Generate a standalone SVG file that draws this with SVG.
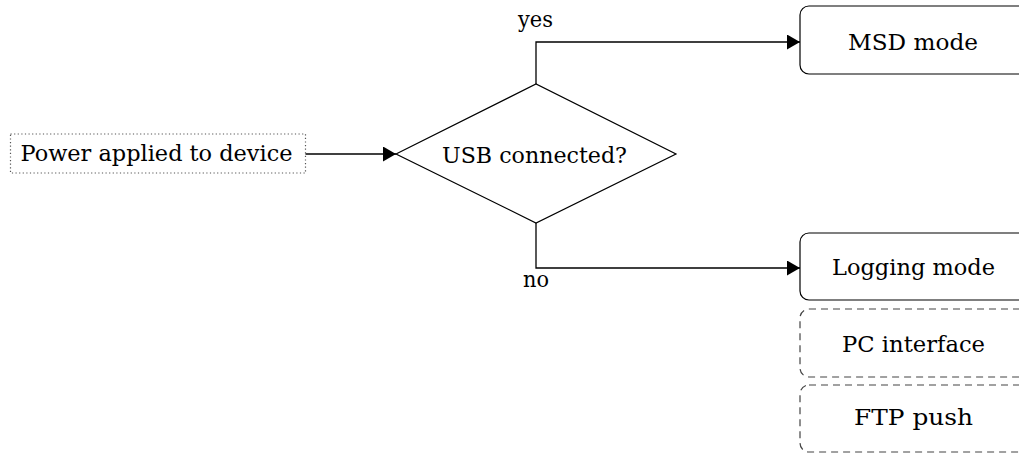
<svg xmlns="http://www.w3.org/2000/svg" width="1019" height="453" viewBox="0 0 1019 453">
<defs>
<marker id="arr" viewBox="0 0 13 15" refX="13" refY="7.5" markerWidth="13" markerHeight="15" markerUnits="userSpaceOnUse" orient="auto">
<path d="M0,0 L13,7.5 L0,15 Z" fill="#000"/>
</marker>
</defs>
<style>
.t{font-family:'DejaVu Serif','Times New Roman',serif;font-size:23px;fill:#000}
.box{fill:#fff;stroke:#000;stroke-width:1.2}
.dash{fill:#fff;stroke:#444;stroke-width:1.2;stroke-dasharray:7,5}
.dot{fill:#fff;stroke:#555;stroke-width:1.2;stroke-dasharray:1.2,2.4}
.edge{fill:none;stroke:#000;stroke-width:1.3;marker-end:url(#arr)}
</style>
<g id="connectors">
<line class="edge" x1="305" y1="154" x2="396" y2="154"/>
<polyline class="edge" points="536,84 536,42 800,42"/>
<polyline class="edge" points="536,223 536,268 800,268"/>
</g>
<g id="power">
<rect class="dot" x="10.5" y="134" width="295" height="39"/>
<text class="t" x="20.5" y="161" textLength="272" lengthAdjust="spacingAndGlyphs">Power applied to device</text>
</g>
<g id="usb">
<polygon class="box" points="396,154 536,84 676,154 536,223"/>
<text class="t" x="442" y="163" textLength="185" lengthAdjust="spacingAndGlyphs">USB connected?</text>
</g>
<g id="label-yes"><text class="t" x="518" y="27" textLength="35" lengthAdjust="spacingAndGlyphs">yes</text></g>
<g id="label-no"><text class="t" x="523" y="287" textLength="26" lengthAdjust="spacingAndGlyphs">no</text></g>
<g id="msd">
<rect class="box" x="800" y="6" width="240" height="68" rx="9"/>
<text class="t" x="848" y="50" textLength="130" lengthAdjust="spacingAndGlyphs">MSD mode</text>
</g>
<g id="logging">
<rect class="box" x="800" y="233" width="240" height="67" rx="9"/>
<text class="t" x="832" y="275" textLength="163" lengthAdjust="spacingAndGlyphs">Logging mode</text>
</g>
<g id="pc">
<rect class="dash" x="800" y="309" width="240" height="68" rx="9"/>
<text class="t" x="842" y="352" textLength="143" lengthAdjust="spacingAndGlyphs">PC interface</text>
</g>
<g id="ftp">
<rect class="dash" x="800" y="385" width="240" height="67" rx="9"/>
<text class="t" x="854" y="425" textLength="119" lengthAdjust="spacingAndGlyphs">FTP push</text>
</g>
</svg>
